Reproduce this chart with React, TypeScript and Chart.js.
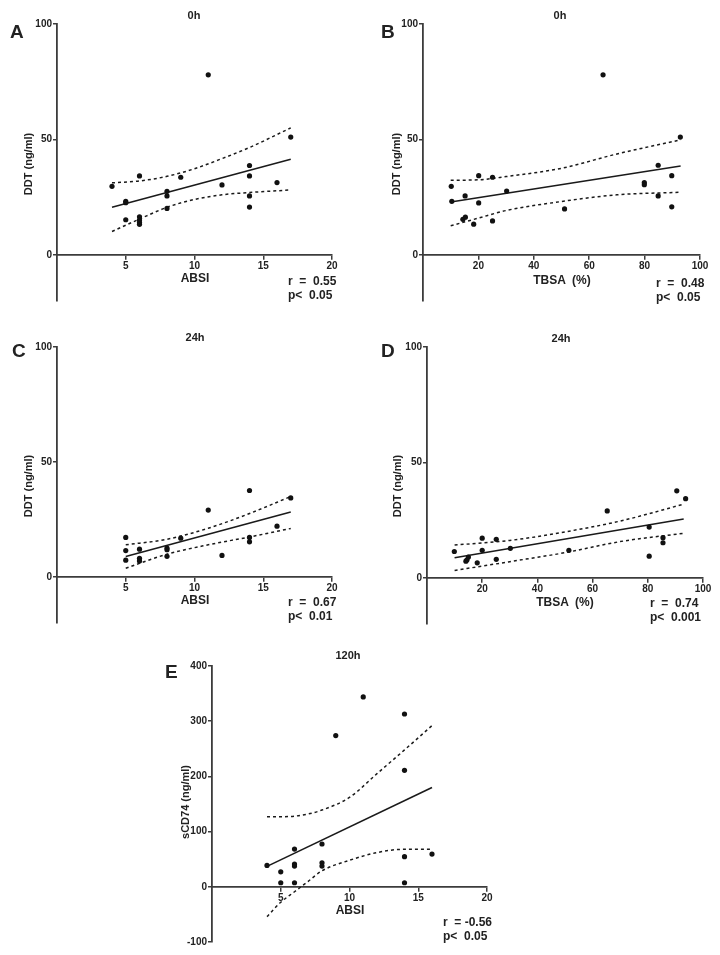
import React, { useEffect, useRef } from 'react';
import { Chart, registerables } from 'chart.js';
Chart.register(...registerables);

// ---------- Panel A : 0h, ABSI vs DDT ----------
const A_ABSI = [4, 5, 5, 5, 6, 6, 6, 6, 6, 8, 8, 8, 9, 11, 12, 14, 14, 14, 14, 16, 17];
const A_DDT = [29.7, 23.2, 22.6, 15.2, 34.2, 16.5, 15.1, 14, 13.2, 27.5, 25.5, 20.1, 33.6, 78, 30.3, 38.7, 34.2, 25.5, 20.7, 31.3, 51];
const A_FIT_X = [4, 17];
const A_FIT_Y = [20.6, 41.4];
const A_BAND_X = [4, 6, 8, 10, 12, 14, 17];
const A_UPPER = [31.2, 32, 34, 37.3, 41.7, 46.5, 55];
const A_LOWER = [10.1, 15.5, 20.6, 24, 26, 27, 28.1];

// ---------- Panel B : 0h, TBSA vs DDT ----------
const B_TBSA = [10.2, 10.4, 15.2, 14.4, 15.3, 18.3, 20.1, 20.1, 25.1, 25.1, 30.2, 51.1, 65, 79.9, 79.9, 84.9, 84.9, 89.8, 89.8, 92.9];
const B_DDT = [29.7, 23.2, 25.5, 15.4, 16.3, 13.3, 34.3, 22.5, 33.6, 14.7, 27.6, 19.9, 78, 31.3, 30.4, 38.8, 25.5, 34.3, 20.8, 51];
const B_FIT_X = [10, 93];
const B_FIT_Y = [22.9, 38.5];
const B_BAND_X = [10, 20, 30, 50, 70, 93];
const B_UPPER = [32.3, 32.5, 33.9, 37.5, 43.7, 49.8];
const B_LOWER = [12.6, 15.9, 19.2, 23.1, 26, 27.1];

// ---------- Panel C : 24h, ABSI vs DDT ----------
const C_ABSI = [5, 5, 5, 6, 6, 6, 8, 8, 8, 9, 11, 12, 14, 14, 14, 16, 17];
const C_DDT = [17.2, 11.5, 7.3, 12.1, 8.1, 7, 12.6, 11.9, 9, 16.9, 29.1, 9.4, 37.6, 17.2, 15.3, 22.1, 34.4];
const C_FIT_X = [5, 17];
const C_FIT_Y = [8.9, 28.3];
const C_BAND_X = [5, 8, 11, 14, 17];
const C_UPPER = [14, 16.4, 21.2, 27.6, 35];
const C_LOWER = [3.8, 9.9, 14, 17.4, 21.1];

// ---------- Panel D : 24h, TBSA vs DDT ----------
const D_TBSA = [9.9, 14.1, 14.5, 15, 18.2, 20, 20, 25.1, 25.1, 30.2, 51.4, 65.3, 80.5, 80.5, 85.5, 85.5, 90.5, 93.7];
const D_DDT = [11.4, 7.2, 7.8, 9, 6.5, 17.2, 11.9, 16.7, 8, 12.8, 11.9, 29, 22, 9.4, 17.4, 15.2, 37.7, 34.3];
const D_FIT_X = [10, 93];
const D_FIT_Y = [8.7, 25.5];
const D_BAND_X = [10, 30, 50, 70, 93];
const D_UPPER = [14.2, 16.2, 19.9, 24.6, 31.9];
const D_LOWER = [3.2, 7, 10.9, 15.7, 19.3];

// ---------- Panel E : 120h, ABSI vs sCD74 ----------
const E_ABSI = [4, 5, 5, 6, 6, 6, 6, 8, 8, 8, 9, 11, 14, 14, 14, 14, 16];
const E_CD74 = [38.7, 27.2, 7.3, 68.4, 41.1, 37.5, 7.3, 77.5, 43.6, 37.5, 274, 344, 313, 211, 54.5, 7.3, 59.3];
const E_FIT_X = [4, 16];
const E_FIT_Y = [37, 180];
const E_BAND_X = [4, 5, 6, 7, 8, 10, 12, 14, 16];
const E_UPPER = [127, 127, 128, 132, 139, 162, 205, 248, 292];
const E_LOWER = [-54, -28, -9, 10, 29, 48, 62, 68, 68];

// ---------- tick labels ----------
const ABSI_TICKS = [5, 10, 15, 20];
const TBSA_TICKS = [20, 40, 60, 80, 100];
const DDT_TICKS = [0, 50, 100];
const CD74_TICKS = [-100, 0, 100, 200, 300, 400];

const FONT = '"Liberation Sans", Arial, Helvetica, sans-serif';
const AXIS = '#3c3c3c';
const TXT = '#222';

const pts = (xs: number[], ys: number[]) => xs.map((x, i) => ({ x, y: ys[i] }));

type PanelProps = {
  left: number; top: number; w: number; h: number;
  pad: { left: number; right: number; top: number; bottom: number };
  yWidth: number;
  xMin: number; xMax: number; xTicks: number[];
  yMin: number; yMax: number; yTicks: number[];
  px: number[]; py: number[];
  fx: number[]; fy: number[];
  bx: number[]; bu: number[]; bl: number[];
};

function Panel(p: PanelProps) {
  const ref = useRef<HTMLCanvasElement>(null);
  useEffect(() => {
    const canvas = ref.current;
    if (!canvas) return;
    const tickFont = { family: FONT, size: 10, weight: 'bold' as const };
    const chart = new Chart(canvas, {
      type: 'scatter',
      data: {
        datasets: [
          {
            data: pts(p.px, p.py),
            pointRadius: 2.6,
            pointBorderWidth: 0,
            backgroundColor: '#111',
            showLine: false,
          },
          {
            data: pts(p.fx, p.fy),
            showLine: true,
            pointRadius: 0,
            borderColor: '#1a1a1a',
            borderWidth: 1.6,
          },
          {
            data: pts(p.bx, p.bu),
            showLine: true,
            pointRadius: 0,
            borderColor: '#1a1a1a',
            borderWidth: 1.5,
            borderDash: [3, 3],
            tension: 0.4,
            cubicInterpolationMode: 'monotone',
          },
          {
            data: pts(p.bx, p.bl),
            showLine: true,
            pointRadius: 0,
            borderColor: '#1a1a1a',
            borderWidth: 1.5,
            borderDash: [3, 3],
            tension: 0.4,
            cubicInterpolationMode: 'monotone',
          },
        ],
      },
      options: {
        animation: false,
        responsive: false,
        devicePixelRatio: 1,
        layout: { padding: p.pad },
        plugins: {
          legend: { display: false },
          tooltip: { enabled: false },
          title: { display: false },
        },
        scales: {
          x: {
            type: 'linear',
            position: { y: 0 } as any,
            min: p.xMin,
            max: p.xMax,
            afterBuildTicks: (s: any) => {
              s.ticks = p.xTicks.map((v) => ({ value: v }));
            },
            grid: { drawOnChartArea: false, tickLength: 4, color: AXIS, lineWidth: 1.5 },
            border: { color: AXIS, width: 1.8 },
            ticks: { font: tickFont, color: TXT, padding: 1, maxRotation: 0 },
          },
          y: {
            type: 'linear',
            position: 'left',
            min: p.yMin,
            max: p.yMax,
            afterBuildTicks: (s: any) => {
              s.ticks = p.yTicks.map((v) => ({ value: v }));
            },
            afterFit: (s: any) => {
              s.width = p.yWidth;
            },
            grid: { drawOnChartArea: false, tickLength: 4, color: AXIS, lineWidth: 1.5 },
            border: { color: AXIS, width: 1.8 },
            ticks: { font: tickFont, color: TXT, padding: 1 },
          },
        },
      },
    });
    return () => chart.destroy();
  }, []);
  return (
    <canvas
      ref={ref}
      width={p.w}
      height={p.h}
      style={{ position: 'absolute', left: p.left, top: p.top, width: p.w, height: p.h }}
    />
  );
}

type TxtProps = { x: number; y: number; text: string; size: number; align?: 'center' | 'left' | 'right'; rotate?: boolean };
function Txt({ x, y, text, size, align = 'center', rotate = false }: TxtProps) {
  const tx = align === 'center' ? '-50%' : align === 'right' ? '-100%' : '0';
  const transform = rotate ? 'translate(-50%,-50%) rotate(-90deg)' : `translate(${tx},-50%)`;
  return (
    <div
      style={{
        position: 'absolute',
        left: x,
        top: y,
        transform,
        fontFamily: FONT,
        fontWeight: 'bold',
        fontSize: size,
        lineHeight: 1,
        whiteSpace: 'pre',
        color: TXT,
      }}
    >
      {text}
    </div>
  );
}

export default function App() {
  return (
    <div style={{ position: 'absolute', left: 0, top: 0, width: 720, height: 955, background: '#fff', overflow: 'hidden' }}>
      <Panel
        left={0} top={0} w={350} h={312}
        pad={{ left: 0, right: 18, top: 24, bottom: 11 }} yWidth={57}
        xMin={0} xMax={20} xTicks={ABSI_TICKS}
        yMin={-20} yMax={100} yTicks={DDT_TICKS}
        px={A_ABSI} py={A_DDT} fx={A_FIT_X} fy={A_FIT_Y} bx={A_BAND_X} bu={A_UPPER} bl={A_LOWER}
      />
      <Panel
        left={360} top={0} w={360} h={312}
        pad={{ left: 0, right: 20, top: 24, bottom: 11 }} yWidth={63}
        xMin={0} xMax={100} xTicks={TBSA_TICKS}
        yMin={-20} yMax={100} yTicks={DDT_TICKS}
        px={B_TBSA} py={B_DDT} fx={B_FIT_X} fy={B_FIT_Y} bx={B_BAND_X} bu={B_UPPER} bl={B_LOWER}
      />
      <Panel
        left={0} top={320} w={350} h={315}
        pad={{ left: 0, right: 18, top: 27, bottom: 12 }} yWidth={57}
        xMin={0} xMax={20} xTicks={ABSI_TICKS}
        yMin={-20} yMax={100} yTicks={DDT_TICKS}
        px={C_ABSI} py={C_DDT} fx={C_FIT_X} fy={C_FIT_Y} bx={C_BAND_X} bu={C_UPPER} bl={C_LOWER}
      />
      <Panel
        left={360} top={320} w={360} h={315}
        pad={{ left: 0, right: 17, top: 27, bottom: 11 }} yWidth={67}
        xMin={0} xMax={100} xTicks={TBSA_TICKS}
        yMin={-20} yMax={100} yTicks={DDT_TICKS}
        px={D_TBSA} py={D_DDT} fx={D_FIT_X} fy={D_FIT_Y} bx={D_BAND_X} bu={D_UPPER} bl={D_LOWER}
      />
      <Panel
        left={150} top={640} w={350} h={312}
        pad={{ left: 0, right: 13, top: 26, bottom: 10 }} yWidth={62}
        xMin={0} xMax={20} xTicks={ABSI_TICKS}
        yMin={-100} yMax={400} yTicks={CD74_TICKS}
        px={E_ABSI} py={E_CD74} fx={E_FIT_X} fy={E_FIT_Y} bx={E_BAND_X} bu={E_UPPER} bl={E_LOWER}
      />

      {/* panel letters */}
      <Txt x={10} y={31} text="A" size={19} align="left" />
      <Txt x={381} y={31} text="B" size={19} align="left" />
      <Txt x={12} y={350} text="C" size={19} align="left" />
      <Txt x={381} y={350} text="D" size={19} align="left" />
      <Txt x={165} y={671} text="E" size={19} align="left" />

      {/* titles */}
      <Txt x={194} y={15} text="0h" size={11} />
      <Txt x={560} y={15} text="0h" size={11} />
      <Txt x={195} y={337} text="24h" size={11} />
      <Txt x={561} y={338} text="24h" size={11} />
      <Txt x={348} y={655} text="120h" size={11} />

      {/* y axis titles */}
      <Txt x={28} y={164} text="DDT (ng/ml)" size={11} rotate />
      <Txt x={396} y={164} text="DDT (ng/ml)" size={11} rotate />
      <Txt x={28} y={486} text="DDT (ng/ml)" size={11} rotate />
      <Txt x={397} y={486} text="DDT (ng/ml)" size={11} rotate />
      <Txt x={185} y={802} text="sCD74 (ng/ml)" size={11} rotate />

      {/* x axis titles */}
      <Txt x={195} y={278} text="ABSI" size={12} />
      <Txt x={562} y={280} text="TBSA  (%)" size={12} />
      <Txt x={195} y={600} text="ABSI" size={12} />
      <Txt x={565} y={602} text="TBSA  (%)" size={12} />
      <Txt x={350} y={910} text="ABSI" size={12} />

      {/* statistics */}
      <Txt x={288} y={281} text="r  =  0.55" size={12} align="left" />
      <Txt x={288} y={295} text="p<  0.05" size={12} align="left" />
      <Txt x={656} y={283} text="r  =  0.48" size={12} align="left" />
      <Txt x={656} y={297} text="p<  0.05" size={12} align="left" />
      <Txt x={288} y={602} text="r  =  0.67" size={12} align="left" />
      <Txt x={288} y={616} text="p<  0.01" size={12} align="left" />
      <Txt x={650} y={603} text="r  =  0.74" size={12} align="left" />
      <Txt x={650} y={617} text="p<  0.001" size={12} align="left" />
      <Txt x={443} y={922} text="r  = -0.56" size={12} align="left" />
      <Txt x={443} y={936} text="p<  0.05" size={12} align="left" />
    </div>
  );
}
